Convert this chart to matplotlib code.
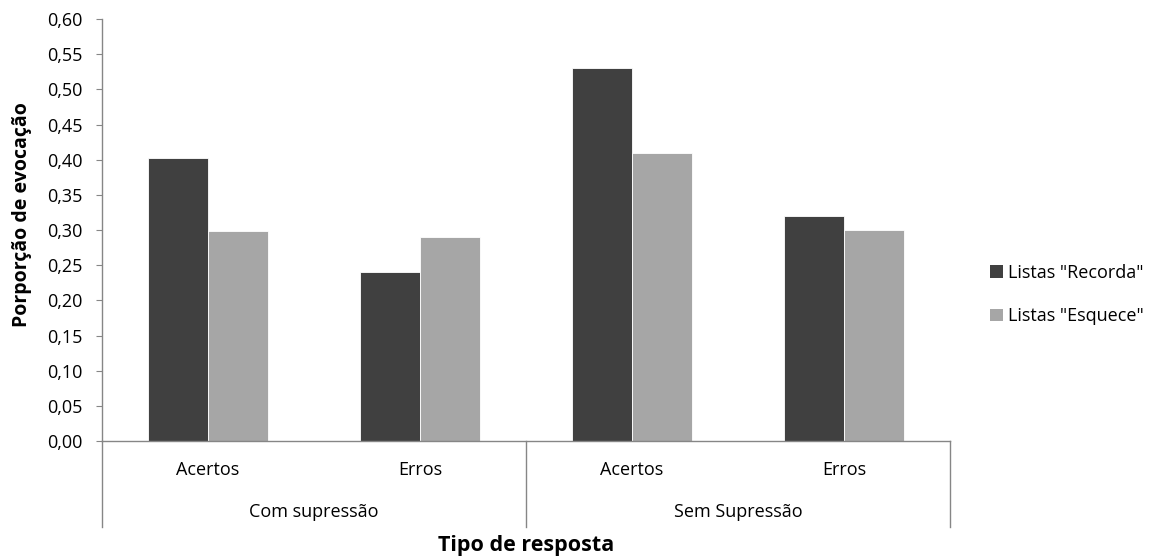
import numpy as np
import matplotlib.pyplot as plt
from matplotlib.patches import Patch

plt.rcParams["font.family"] = ["Open Sans", "DejaVu Sans"]

groups = ["Com supressão", "Sem Supressão"]
categories = ["Acertos", "Erros", "Acertos", "Erros"]
recorda = [0.403, 0.241, 0.53, 0.32]
esquece = [0.299, 0.29, 0.41, 0.30]
series_names = ['Listas "Recorda"', 'Listas "Esquece"']
colors = ["#404040", "#A6A6A6"]
yticks = np.arange(0, 0.601, 0.05)

fig = plt.figure(figsize=(11.53, 5.58), dpi=100)
ax = fig.add_axes([0.0885, 0.2097, 0.7355, 0.756])

x = np.arange(len(categories))
w = 0.283
ax.bar(x - w / 2, recorda, width=w, color=colors[0], edgecolor="white", linewidth=0.6)
ax.bar(x + w / 2, esquece, width=w, color=colors[1], edgecolor="white", linewidth=0.6)

ax.set_xlim(-0.5, len(categories) - 0.5)
ax.set_ylim(0, 0.6)
ax.set_yticks(yticks)
ax.set_yticklabels([f"{v:.2f}".replace(".", ",") for v in yticks], fontsize=13)
ax.tick_params(axis="y", direction="out", length=4, color="#868686", pad=10)
ax.set_xticks([])

for side in ["top", "right"]:
    ax.spines[side].set_visible(False)
for side in ["left", "bottom"]:
    ax.spines[side].set_color("#868686")
    ax.spines[side].set_linewidth(1.0)

# multi-level category axis
trans = ax.get_xaxis_transform()
for xd in [-0.5, 1.5, 3.5]:
    ax.plot([xd, xd], [0, -0.204], transform=trans, color="#868686", lw=1.0, clip_on=False)
for xi, lab in zip(x, categories):
    ax.text(xi, -0.069, lab, transform=trans, ha="center", va="center", fontsize=13)
for gi, g in enumerate(groups):
    ax.text(0.5 + 2 * gi, -0.168, g, transform=trans, ha="center", va="center", fontsize=13)

fig.text(0.019, 0.615, "Porporção de evocação", rotation=90, ha="center", va="center",
         fontsize=14, fontweight="bold")
fig.text(0.456, 0.022, "Tipo de resposta", ha="center", va="center",
         fontsize=15.5, fontweight="bold")

handles = [Patch(facecolor=c, edgecolor="none") for c in colors]
fig.legend(handles, series_names, loc="center left", bbox_to_anchor=(0.859, 0.472),
           frameon=False, fontsize=13, handlelength=0.7, handleheight=0.7,
           handletextpad=0.3, labelspacing=1.4, borderpad=0, borderaxespad=0)

fig.savefig("out.png", dpi=100)
